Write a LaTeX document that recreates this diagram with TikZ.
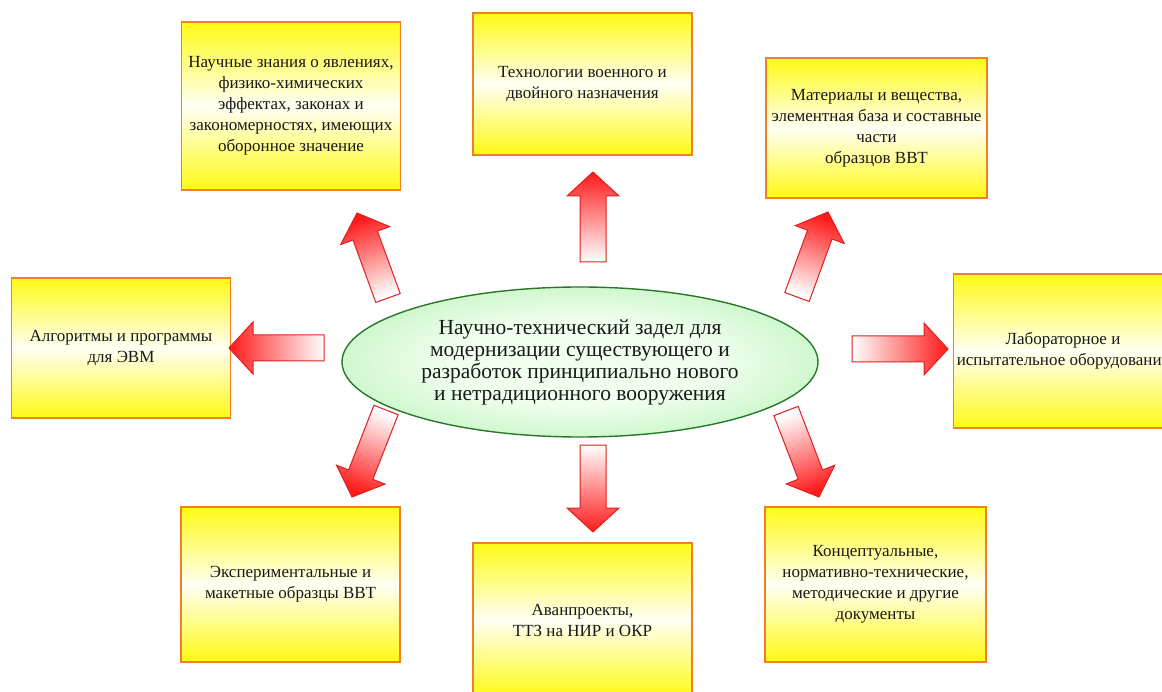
\documentclass[tikz,border=0pt]{standalone}
\usepackage{fontspec}
\setmainfont{Liberation Serif}
\newfontfamily\timesru{Liberation Serif}
\usetikzlibrary{shapes.geometric,calc}

\definecolor{boxyellow}{RGB}{255,250,20}
\definecolor{boxline}{RGB}{240,128,40}
\definecolor{elllight}{RGB}{240,255,238}
\definecolor{elldark}{RGB}{135,230,135}
\definecolor{ellline}{RGB}{40,120,40}
\definecolor{arrred}{RGB}{255,25,25}
\definecolor{arrline}{RGB}{225,30,30}

\pgfdeclareradialshading{eggshade}{\pgfpoint{0bp}{0bp}}{color(0bp)=(elllight); color(14bp)=(elllight); color(50bp)=(elldark); color(70bp)=(elldark)}

% block arrow: tail #1, tip #2, shading turned by #3
\newcommand{\blockarrow}[3]{%
  \coordinate (hb) at ($(#2)!24pt!(#1)$);
  \draw[blockarr, shading angle=#3]
    ($(#1)!13pt!90:(#2)$) -- ($(hb)!13pt!90:(#2)$) -- ($(hb)!26pt!90:(#2)$) -- (#2)
    -- ($(hb)!26pt!-90:(#2)$) -- ($(hb)!13pt!-90:(#2)$) -- ($(#1)!13pt!-90:(#2)$) -- cycle;
}

\begin{document}
\begin{tikzpicture}[x=1pt, y=-1pt,
    every node/.style = {font=\timesru\fontsize{17}{21}\selectfont, text=black!90, align=center},
    infobox/.style = {rectangle, draw=boxline, line width=1.6pt, top color=boxyellow, bottom color=boxyellow, middle color=yellow!4, minimum width=219pt, inner sep=2pt},
    centre/.style = {ellipse, draw=ellline, line width=1.4pt, shading=eggshade, minimum width=476pt, minimum height=150pt, inner sep=0pt, font=\timesru\fontsize{21.5}{22}\selectfont},
    blockarr/.style = {draw=arrline, line width=1pt, top color=arrred, bottom color=white}
  ]
  \useasboundingbox (0,0) rectangle (1162,692);

  \node[centre] (zadel) at (580,362) {Научно-технический задел для\\модернизации существующего и\\разработок принципиально нового\\и нетрадиционного вооружения};

  \node[infobox, minimum height=168pt] (nauka) at (291,106) {Научные знания о явлениях,\\физико-химических\\эффектах, законах и\\закономерностях, имеющих\\оборонное значение};
  \node[infobox, minimum height=142pt] (tehno) at (582.5,84) {Технологии военного и\\двойного назначения};
  \node[infobox, minimum height=140pt, minimum width=221pt] (mater) at (876.5,128) {Материалы и вещества,\\элементная база и составные\\части\\образцов ВВТ};
  \node[infobox, minimum height=140pt] (algo) at (121,348) {Алгоритмы и программы\\для ЭВМ};
  \node[infobox, minimum height=154pt] (labor) at (1063,351) {Лабораторное и\\испытательное оборудование};
  \node[infobox, minimum height=155pt] (eksper) at (290.5,584.5) {Экспериментальные и\\макетные образцы ВВТ};
  \node[infobox, minimum height=154pt] (avan) at (582.5,620) {Аванпроекты,\\ТТЗ на НИР и ОКР};
  \node[infobox, minimum height=155pt, minimum width=221pt] (konc) at (875.5,584.5) {Концептуальные,\\нормативно-технические,\\методические и другие\\документы};

  \coordinate (ulT) at (388,298); \coordinate (ulH) at (357,213);
  \coordinate (ucT) at (593,262); \coordinate (ucH) at (593,172);
  \coordinate (urT) at (797,297); \coordinate (urH) at (828,212);
  \coordinate (lT) at (324,348);  \coordinate (lH) at (229,348);
  \coordinate (rT) at (852,349);  \coordinate (rH) at (948,349);
  \coordinate (dlT) at (386,410); \coordinate (dlH) at (352,497);
  \coordinate (dcT) at (593,445); \coordinate (dcH) at (593,532);
  \coordinate (drT) at (786,411); \coordinate (drH) at (819,497);

  \blockarrow{ulT}{ulH}{20}
  \blockarrow{ucT}{ucH}{0}
  \blockarrow{urT}{urH}{-20}
  \blockarrow{lT}{lH}{90}
  \blockarrow{rT}{rH}{-90}
  \blockarrow{dlT}{dlH}{159}
  \blockarrow{dcT}{dcH}{180}
  \blockarrow{drT}{drH}{201}
\end{tikzpicture}
\end{document}
